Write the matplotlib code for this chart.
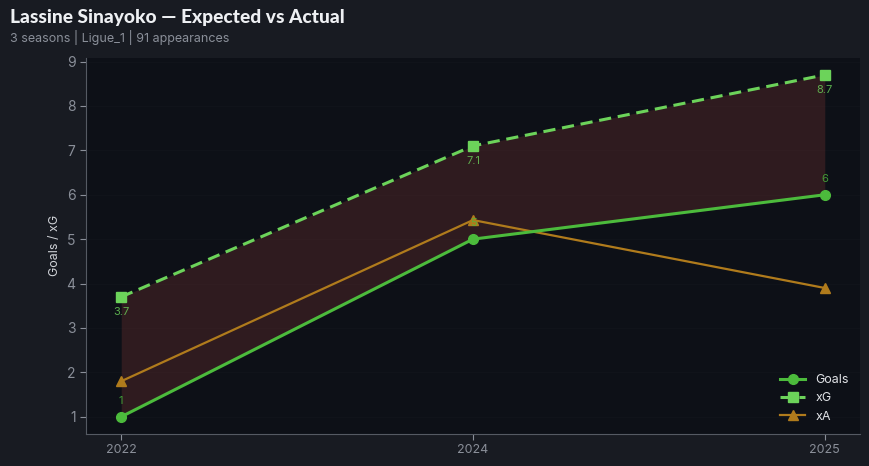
import matplotlib.pyplot as plt
import numpy as np

seasons = ["2022", "2024", "2025"]
goals = [1, 5, 6]
xg = [3.7, 7.1, 8.7]
xa = [1.8, 5.43, 3.9]

plt.rcParams["font.family"] = ["Inter", "DejaVu Sans"]

bg = "#181b22"
panel = "#0d1017"
c_goals = "#4cbb3c"
c_xg = "#6cd35a"
c_xa = "#b07b1c"

fig = plt.figure(figsize=(8.69, 4.66), dpi=100, facecolor=bg)
ax = fig.add_axes((0.099, 0.069, 0.8906, 0.807))
ax.set_facecolor(panel)

x = np.arange(len(seasons))
ax.fill_between(x, goals, xg, color="#5a2a2a", alpha=0.45, lw=0, zorder=1)
ax.plot(x, goals, color=c_goals, lw=2.2, marker="o", ms=7, label="Goals", zorder=4)
ax.plot(x, xg, color=c_xg, lw=2.2, ls=(0, (4, 2.2)), marker="s", ms=7, label="xG", zorder=4)
ax.plot(x, xa, color=c_xa, lw=1.6, marker="^", ms=7, label="xA", zorder=3)

for xi, g in zip(x, goals):
    ax.annotate(f"{g:g}", (xi, g), xytext=(0, 8), textcoords="offset points",
                ha="center", va="bottom", color=c_goals, fontsize=8, alpha=0.8)
for xi, v in zip(x, xg):
    ax.annotate(f"{v:g}", (xi, v), xytext=(0, -7), textcoords="offset points",
                ha="center", va="top", color=c_xg, fontsize=8, alpha=0.8)

ax.set_xticks(x)
ax.set_xticklabels(seasons)
ax.set_yticks(range(1, 10))
ax.tick_params(colors="#8a8f99", labelsize=10, length=4)
ax.tick_params(axis="x", labelsize=9)
for s in ["top", "right"]:
    ax.spines[s].set_visible(False)
for s in ["left", "bottom"]:
    ax.spines[s].set_color("#555a63")
ax.grid(axis="y", color="#ffffff", alpha=0.015, lw=0.8)
ax.set_axisbelow(True)
ax.set_ylabel("Goals / xG", color="#d0d3d8", fontsize=9)

leg = ax.legend(loc="lower right", frameon=False, fontsize=9, labelcolor="#e0e2e6",
                handlelength=2.0)

fig.text(0.0115, 0.962, "Lassine Sinayoko — Expected vs Actual", color="#eef0f3",
         fontsize=13.8, fontweight="black", family=["Lato", "DejaVu Sans"], va="center")
fig.text(0.0115, 0.92, "3 seasons | Ligue_1 | 91 appearances", color="#8a8f99",
         fontsize=9, va="center")

fig.savefig("out.png", facecolor=bg)
